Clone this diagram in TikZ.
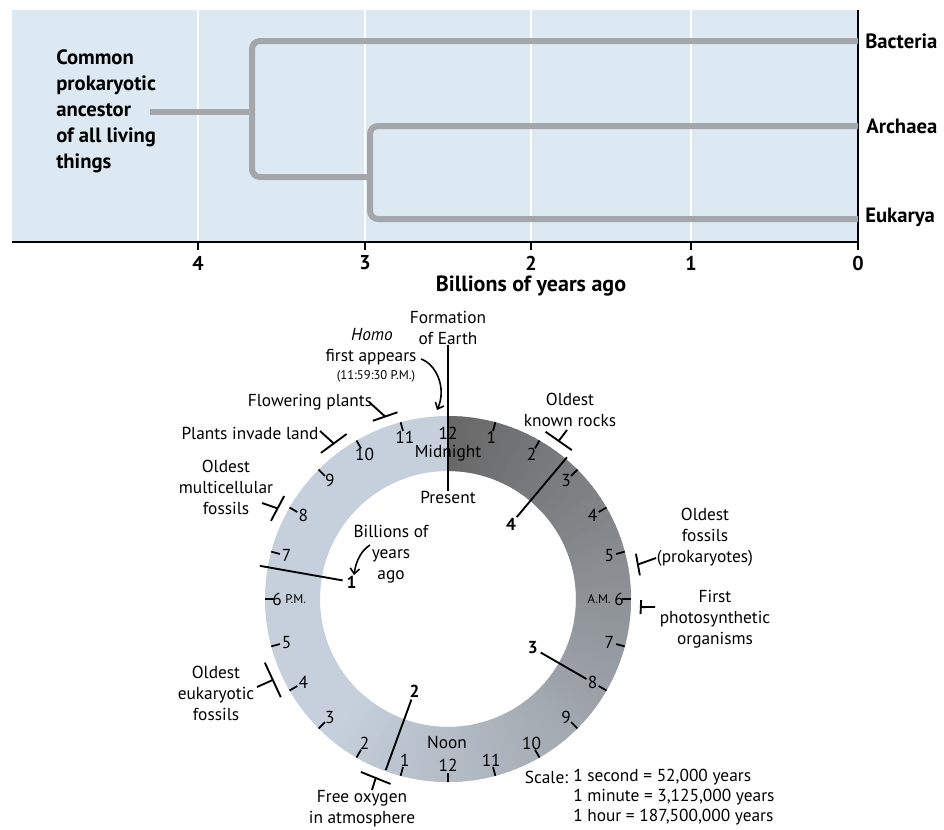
\documentclass[tikz,border=0pt]{standalone}
\usepackage{fontspec}
\setmainfont{PT Sans}
\usetikzlibrary{arrows.meta,calc}
\definecolor{panelbg}{HTML}{DCE9F2}
\definecolor{treegrey}{HTML}{A3A6AA}
\definecolor{ringlight}{HTML}{C6D0DC}
\definecolor{ringdark}{HTML}{686868}
\begin{document}
\begin{tikzpicture}[x=0.75pt,y=-0.75pt,
  treeline/.style={treegrey, line width=4.5pt, rounded corners=6pt},
  gridline/.style={white, line width=1.5pt},
  axislbl/.style={font=\fontsize{15}{17}\selectfont\bfseries, inner sep=0pt},
  taxon/.style={font=\fontsize{15.5}{17}\selectfont\bfseries, anchor=west, inner sep=0pt},
  lbl/.style={font=\fontsize{13}{15.75}\selectfont, align=center, inner sep=0pt},
  smalllbl/.style={font=\fontsize{9.5}{10}\selectfont, inner sep=0pt},
  hournum/.style={font=\fontsize{13}{13}\selectfont, inner sep=0pt},
  bignum/.style={font=\fontsize{13}{13}\selectfont\bfseries, inner sep=0pt},
  blk/.style={black, line width=1.4pt},
  tick/.style={black, line width=1.3pt},
  tip/.style={-{Straight Barb[length=4pt,width=7pt]}, line width=1.2pt},
]
\useasboundingbox (0,0) rectangle (944,829);
% ---------- top panel ----------
\fill[panelbg] (12,10) rectangle (858,242);
\foreach \xx/\t in {198/4,365/3,531/2,691/1} {
  \draw[gridline] (\xx,10) -- (\xx,241);
  \draw[tick] (\xx,242) -- (\xx,250);
  \node[axislbl] (ax\t) at (\xx,263) {\t};
}
\draw[tick] (858,242) -- (858,250);
\node[axislbl] (ax0) at (858,263) {0};
\draw[line width=1.4pt] (12,242) -- (858,242) -- (858,10);
\node[font=\fontsize{16.5}{17}\selectfont\bfseries, inner sep=0pt] (axtitle) at (531,286) {Billions of years ago};

\node[taxon] (bac) at (865,41) {Bacteria};
\node[taxon] (arc) at (866,126) {Archaea};
\node[taxon] (euk) at (865,217) {Eukarya};
\node[font=\fontsize{15.5}{19.5}\selectfont\bfseries, align=left, anchor=west, inner sep=0pt] (anc) at (56,111)
  {Common\\prokaryotic\\ancestor\\of all living\\things};

\coordinate (root) at (150,112);
\coordinate (n1) at (252,112);
\coordinate (bacE) at (858,41);
\coordinate (arcE) at (858,126);
\coordinate (eukE) at (858,219);
\coordinate (n2) at (370,177);
\draw[treeline] (root) -- (n1);
\draw[treeline] (bacE) -- (252,41) -- (252,177) -- (n2);
\draw[treeline] (arcE) -- (370,126) -- (370,219) -- (eukE);

% ---------- clock ----------
\begin{scope}[shift={(448,599)}, y=0.75pt]
  \fill[ringlight, even odd rule] (0,0) circle[radius=183] (0,0) circle[radius=128];
  \foreach \a in {90,88,...,-130} {
    \pgfmathtruncatemacro\p{(\a+132)/2.22}
    \fill[ringdark!\p!ringlight] (\a:183) arc[start angle=\a, end angle=\a-2.4, radius=183]
      -- (\a-2.4:128) arc[start angle=\a-2.4, end angle=\a, radius=128] -- cycle;
  }
  % ticks
  \foreach \h in {1,...,23} { \draw[tick] (90-15*\h:174) -- (90-15*\h:183); }
  % hour numbers
  \node[hournum] (mid12) at (90:166) {12};
  \node[hournum] (noon12) at (-90:166) {12};
  \foreach \h in {1,2,3,4,5,7,8,9,10,11} {
    \node[hournum] (am\h) at (90-15*\h:167) {\h};
    \node[hournum] (pm\h) at (-90-15*\h:167) {\h};
  }
  \node[hournum] (am6) at (0:171) {6};
  \node[smalllbl, anchor=east] (amlbl) at ($(am6.west)+(-3,0)$) {A.M.};
  \node[hournum] (pm6) at (180:171) {6};
  \node[smalllbl, anchor=west] (pmlbl) at ($(pm6.east)+(3,0)$) {P.M.};
  % billions-of-years lines
  \foreach \n/\ang/\ro in {1/170/191, 2/250/182, 3/-30/160, 4/50/185} {
    \coordinate (g\n a) at (\ang:107);
    \coordinate (g\n b) at (\ang:\ro);
    \draw[blk] (g\n a) -- (g\n b);
    \node[bignum] (big\n) at (\ang:98) {\n};
  }
  % event markers
  \foreach \n/\ang/\hl in {fl/109/13, pl/126.3/16, mc/152/14, rk/55/16, pk/10.3/11, ph/-2.4/7, eu/204.8/19, ox/248/16} {
    \coordinate (\n) at (\ang:193);
    \draw[blk] ($(\n)+(\ang+90:\hl)$) -- ($(\n)+(\ang-90:\hl)$);
  }
\end{scope}

% labels
\node[lbl] (form) at (448,328) {Formation\\of Earth};
\node[lbl] (pres) at (448,497) {Present};
\node[lbl] (midn) at (448,453) {Midnight};
\node[lbl] (noon) at (447,742) {Noon};
\draw[blk] (form.south) -- (pres.north);

\node[lbl, font=\fontsize{13}{14}\selectfont\itshape] (homo1) at (372,335) {Homo};
\node[lbl] (homo2) at (371,357) {first appears};
\node[smalllbl] (homo3) at (376,376) {(11:59:30 P.M.)};
\coordinate (homoA) at (421,359);
\coordinate (homoB) at (437,410);
\draw[tip] (homoA) .. controls (436,364) and (447,388) .. (homoB);

\node[lbl] (flow) at (310,402) {Flowering plants};
\node[lbl] (plin) at (250,433) {Plants invade land};
\node[lbl] (mcel) at (226,487) {Oldest\\multicellular\\fossils};
\node[lbl] (bil) at (391,554) {Billions of\\years\\ago};
\coordinate (bilA) at (370,545);
\coordinate (bilB) at (354,575);
\draw[tip] (bilA) .. controls (362,550) and (356,560) .. (bilB);
\node[lbl] (rock) at (570,410) {Oldest\\known rocks};
\node[lbl] (prok) at (705,537) {Oldest\\fossils\\(prokaryotes)};
\node[lbl] (phot) at (715,619) {First\\photosynthetic\\organisms};
\node[lbl] (euka) at (216,693) {Oldest\\eukaryotic\\fossils};
\node[lbl] (oxy) at (362,809) {Free oxygen\\in atmosphere};

% stems
\coordinate (flS) at (369,402);
\coordinate (plS) at (320,431);
\coordinate (mcS) at (262,503);
\coordinate (rkS) at (567,430);
\coordinate (pkS) at (656,558);
\coordinate (phS) at (655,607);
\coordinate (euS) at (257,687);
\coordinate (oxS) at (372,790);
\foreach \n in {fl,pl,mc,rk,pk,ph,eu,ox} { \draw[blk] (\n) -- (\n S); }

% scale
\node[lbl, anchor=east] (sc0) at (573,777) {Scale:\ };
\node[lbl, anchor=west] (sc1) at (573,777) {1 second = 52,000 years};
\node[lbl, anchor=west] (sc2) at (573,797) {1 minute = 3,125,000 years};
\node[lbl, anchor=west] (sc3) at (573,817) {1 hour = 187,500,000 years};
\end{tikzpicture}
\end{document}
